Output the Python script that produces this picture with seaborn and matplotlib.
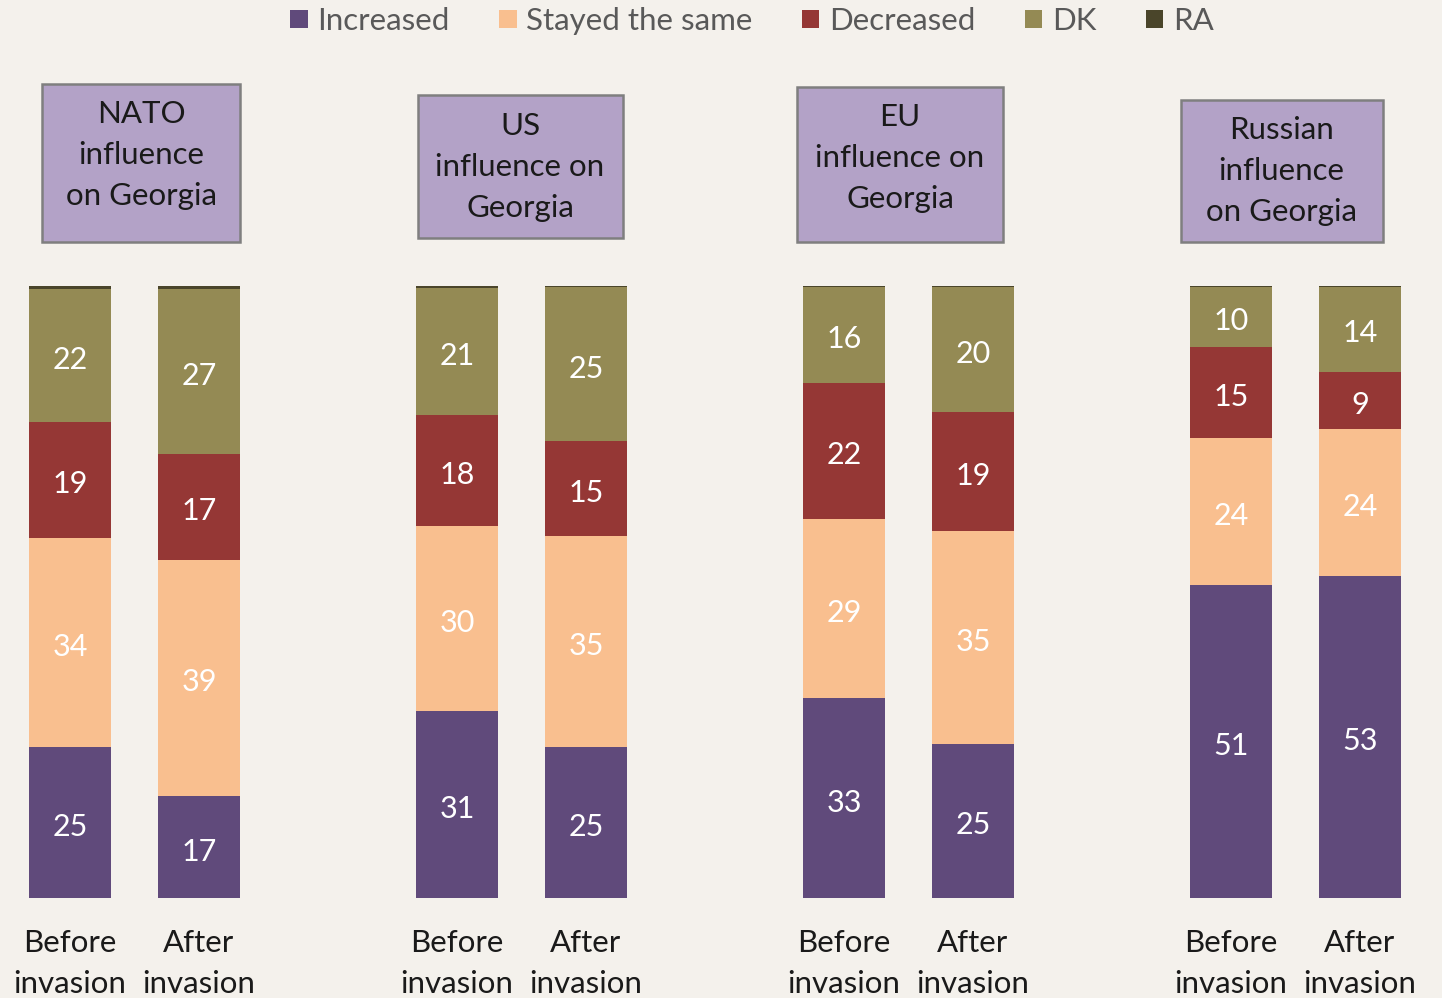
import numpy as np
import pandas as pd
import matplotlib.pyplot as plt
from matplotlib.patches import Patch, Rectangle
import seaborn as sns

# data (percent)
titles = ['NATO\ninfluence\non Georgia', 'US\ninfluence on\nGeorgia',
          'EU\ninfluence on\nGeorgia', 'Russian\ninfluence\non Georgia']
bar_labels = ['Before\ninvasion', 'After\ninvasion'] * 4
positions = [0, 1, 3, 4, 6, 7, 9, 10]
categories = ['Increased', 'Stayed the same', 'Decreased', 'DK', 'RA']
increased = [24.6, 16.6, 30.6, 24.6, 32.6, 25.2, 51.1, 52.6]
stayed = [34.3, 38.7, 30.2, 34.6, 29.4, 34.8, 24.0, 24.0]
decreased = [18.9, 17.2, 18.1, 15.4, 22.1, 19.4, 15.0, 9.4]
dk = [21.7, 27.0, 20.8, 25.2, 15.8, 20.4, 9.8, 13.9]
ra = [0.5, 0.5, 0.3, 0.3, 0.2, 0.2, 0.1, 0.1]
colors = ['#604A7B', '#F9BF8F', '#953735', '#948A54', '#4A452A']

df = pd.DataFrame({'pos': positions, 'Increased': increased,
                   'Stayed the same': stayed, 'Decreased': decreased,
                   'DK': dk, 'RA': ra})

W, H = 1442, 998
bg = '#F4F1EC'
sns.set_theme(style='white')
plt.rcParams['font.family'] = ['Lato', 'DejaVu Sans']

fig = plt.figure(figsize=(W / 100, H / 100), dpi=100, facecolor=bg)
ax = fig.add_axes([0, 100 / H, 1, 612 / H])
ax.set_facecolor(bg)

bottom = np.zeros(len(positions))
for name, col in zip(categories, colors):
    vals = df[name].to_numpy()
    sns.barplot(data=df, x='pos', y=name, native_scale=True, width=0.636,
                color=col, saturation=1, errorbar=None, bottom=bottom,
                linewidth=0, ax=ax)
    if name != 'RA':
        for p, b, v in zip(positions, bottom, vals):
            ax.text(p, b + v / 2 - 0.3, f"{round(v)}", ha='center',
                    va='center_baseline', color='white', fontsize=22)
    bottom = bottom + vals

ax.set_xlim(-70 / 129, (W - 70) / 129)
ax.set_ylim(0, 100)
ax.set_xticks(positions, bar_labels, fontsize=22.5, linespacing=1.6,
              color='#1a1a1a')
ax.tick_params(axis='x', length=0, pad=22)
ax.set_yticks([])
ax.set_xlabel('')
ax.set_ylabel('')
sns.despine(ax=ax, left=True, bottom=True)

# title boxes (pixel extents)
boxes = [(42, 84, 240, 242, 141, 155), (418, 95, 623, 238, 520, 167),
         (797, 87, 1003, 242, 900, 158), (1181, 100, 1383, 242, 1281, 171)]
for (x0, y0, x1, y1, cx, cy), t in zip(boxes, titles):
    fig.add_artist(Rectangle((x0 / W, 1 - y1 / H), (x1 - x0) / W, (y1 - y0) / H,
                             transform=fig.transFigure, facecolor='#B3A2C7',
                             edgecolor='#7F7F7F', linewidth=1.8))
    fig.text(cx / W, 1 - cy / H, t, ha='center', va='center', fontsize=22.5,
             linespacing=1.56, color='#1a1a1a')

handles = [Patch(facecolor=c, edgecolor='none') for c in colors]
leg = fig.legend(handles, categories, loc='upper center',
                 bbox_to_anchor=(0.5215, 0.996), ncol=5, frameon=False,
                 fontsize=22.5, handlelength=0.55, handleheight=0.55,
                 handletextpad=0.3, columnspacing=1.6, borderaxespad=0,
                 borderpad=0.1)
for txt in leg.get_texts():
    txt.set_color('#595959')

fig.savefig('out.png', dpi=100, facecolor=bg)
